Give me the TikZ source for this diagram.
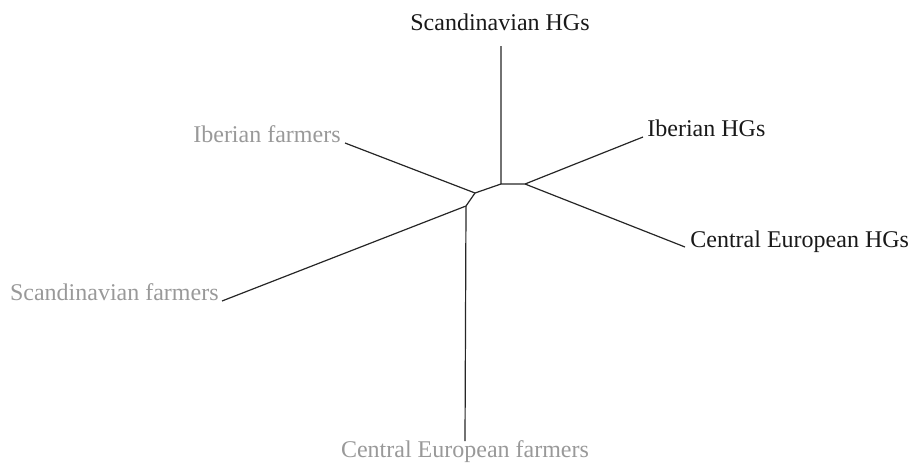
\documentclass[tikz,border=0pt]{standalone}
\usepackage{fontspec}
\setmainfont{Liberation Serif}
\usetikzlibrary{positioning}

\begin{document}
\begin{tikzpicture}[x=0.5pt,y=-0.5pt]
    \tikzset{branch/.style={line width=0.6pt, black!85}}
    \tikzset{hg/.style={inner sep=0pt, font=\fontsize{12}{14}\selectfont, black!90}}
    \tikzset{farmer/.style={inner sep=0pt, font=\fontsize{12}{14}\selectfont, black!40}}
    \useasboundingbox (0,0) rectangle (909,466);
    % inner vertices
    \coordinate (a) at (501,184);
    \coordinate (b) at (525,184);
    \coordinate (c) at (475,193);
    \coordinate (d) at (466,206);
    % leaf tips
    \coordinate (sh) at (501,46);
    \coordinate (ih) at (643,137);
    \coordinate (ch) at (685,247);
    \coordinate (if) at (345,143);
    \coordinate (sf) at (222,301);
    \coordinate (cf) at (465,441);
    % labels
    \node[hg, anchor=base] (shl) at (500,31) {Scandinavian HGs};
    \node[hg, anchor=base west] (ihl) at (647,136) {Iberian HGs};
    \node[hg, anchor=base west] (chl) at (690,247) {Central European HGs};
    \node[farmer, anchor=base east] (ifl) at (341,142) {Iberian farmers};
    \node[farmer, anchor=base east] (sfl) at (219,300) {Scandinavian farmers};
    \node[farmer, anchor=base] (cfl) at (465,457) {Central European farmers};
    % branches
    \draw[branch] (sh) -- (a) -- (b) -- (ih);
    \draw[branch] (b) -- (ch);
    \draw[branch] (a) -- (c) -- (if);
    \draw[branch] (c) -- (d) -- (sf);
    \draw[branch] (d) -- (cf);
\end{tikzpicture}
\end{document}
